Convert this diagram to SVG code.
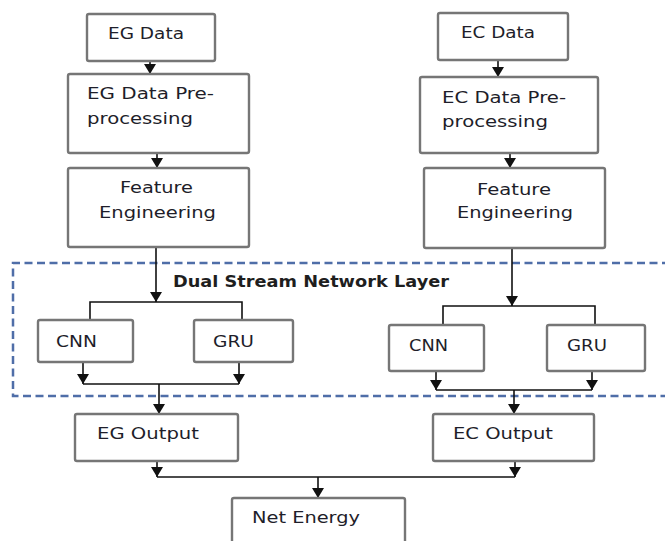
<svg xmlns="http://www.w3.org/2000/svg" width="665" height="541" viewBox="0 0 665 541">
<style>
.box{fill:#fff;stroke:#767676;stroke-width:2.4}
.t{font-family:"DejaVu Sans",Verdana,sans-serif;font-size:15px;fill:#1e1e2a}
.b{font-family:"DejaVu Sans",Verdana,sans-serif;font-size:15px;font-weight:bold;fill:#1e1e1e}
.c{fill:none;stroke:#111;stroke-width:1.6}
.dash{fill:none;stroke:#4f6ea8;stroke-width:2.5;stroke-dasharray:8 4.5}
</style>
<defs>
<marker id="ah" markerUnits="userSpaceOnUse" markerWidth="10" markerHeight="12" refX="10" refY="6" orient="auto" viewBox="0 0 10 12">
<path d="M0,0 L10,6 L0,12 Z" fill="#111"/>
</marker>
</defs>
<rect width="665" height="541" fill="#fff"/>
<path class="dash" d="M670,263 H13 V396 H670"/>
<text class="b" x="173" y="287" textLength="276" lengthAdjust="spacingAndGlyphs">Dual Stream Network Layer</text>

<g id="connectors">
<path class="c" d="M150,61 V74" marker-end="url(#ah)"/>
<path class="c" d="M157,153 V168" marker-end="url(#ah)"/>
<path class="c" d="M156,247 V302" marker-end="url(#ah)"/>
<path class="c" d="M90,320 V302 H242 V320"/>
<path class="c" d="M83,362 V384" marker-end="url(#ah)"/>
<path class="c" d="M239,362 V384" marker-end="url(#ah)"/>
<path class="c" d="M83,384 H239"/>
<path class="c" d="M159,384 V414" marker-end="url(#ah)"/>
<path class="c" d="M498,60 V77" marker-end="url(#ah)"/>
<path class="c" d="M510,153 V168" marker-end="url(#ah)"/>
<path class="c" d="M512,248 V306" marker-end="url(#ah)"/>
<path class="c" d="M443,325 V306 H595 V325"/>
<path class="c" d="M436,371 V390" marker-end="url(#ah)"/>
<path class="c" d="M592,371 V390" marker-end="url(#ah)"/>
<path class="c" d="M436,390 H592"/>
<path class="c" d="M514,390 V414" marker-end="url(#ah)"/>
<path class="c" d="M157,461 V477" marker-end="url(#ah)"/>
<path class="c" d="M515,461 V477" marker-end="url(#ah)"/>
<path class="c" d="M157,477 H515"/>
<path class="c" d="M318,477 V498" marker-end="url(#ah)"/>
</g>

<g id="eg-data"><rect class="box" x="87" y="14" width="128" height="47" rx="2"/><text class="t" x="108" y="39" textLength="76" lengthAdjust="spacingAndGlyphs">EG Data</text></g>
<g id="eg-pre"><rect class="box" x="68" y="74" width="181" height="79" rx="2"/><text class="t" x="87" y="99" textLength="127" lengthAdjust="spacingAndGlyphs">EG Data Pre-</text><text class="t" x="87" y="124" textLength="106" lengthAdjust="spacingAndGlyphs">processing</text></g>
<g id="eg-fe"><rect class="box" x="68" y="168" width="181" height="79" rx="2"/><text class="t" x="120" y="193" textLength="73" lengthAdjust="spacingAndGlyphs">Feature</text><text class="t" x="99" y="218" textLength="117" lengthAdjust="spacingAndGlyphs">Engineering</text></g>
<g id="eg-cnn"><rect class="box" x="38" y="320" width="95" height="42" rx="2"/><text class="t" x="56" y="347" textLength="41" lengthAdjust="spacingAndGlyphs">CNN</text></g>
<g id="eg-gru"><rect class="box" x="194" y="320" width="99" height="42" rx="2"/><text class="t" x="213" y="347" textLength="41" lengthAdjust="spacingAndGlyphs">GRU</text></g>
<g id="eg-out"><rect class="box" x="75" y="414" width="163" height="47" rx="2"/><text class="t" x="97" y="439" textLength="102" lengthAdjust="spacingAndGlyphs">EG Output</text></g>

<g id="ec-data"><rect class="box" x="438" y="13" width="130" height="47" rx="2"/><text class="t" x="461" y="38" textLength="74" lengthAdjust="spacingAndGlyphs">EC Data</text></g>
<g id="ec-pre"><rect class="box" x="420" y="77" width="178" height="76" rx="2"/><text class="t" x="442" y="103" textLength="124" lengthAdjust="spacingAndGlyphs">EC Data Pre-</text><text class="t" x="442" y="127" textLength="106" lengthAdjust="spacingAndGlyphs">processing</text></g>
<g id="ec-fe"><rect class="box" x="424" y="168" width="181" height="80" rx="2"/><text class="t" x="477" y="195" textLength="74" lengthAdjust="spacingAndGlyphs">Feature</text><text class="t" x="457" y="218" textLength="116" lengthAdjust="spacingAndGlyphs">Engineering</text></g>
<g id="ec-cnn"><rect class="box" x="389" y="325" width="95" height="46" rx="2"/><text class="t" x="409" y="351" textLength="39" lengthAdjust="spacingAndGlyphs">CNN</text></g>
<g id="ec-gru"><rect class="box" x="547" y="325" width="98" height="46" rx="2"/><text class="t" x="567" y="351" textLength="40" lengthAdjust="spacingAndGlyphs">GRU</text></g>
<g id="ec-out"><rect class="box" x="433" y="414" width="161" height="47" rx="2"/><text class="t" x="453" y="439" textLength="100" lengthAdjust="spacingAndGlyphs">EC Output</text></g>

<g id="net-energy"><rect class="box" x="232" y="498" width="173" height="60" rx="2"/><text class="t" x="252" y="523" textLength="108" lengthAdjust="spacingAndGlyphs">Net Energy</text></g>
</svg>
